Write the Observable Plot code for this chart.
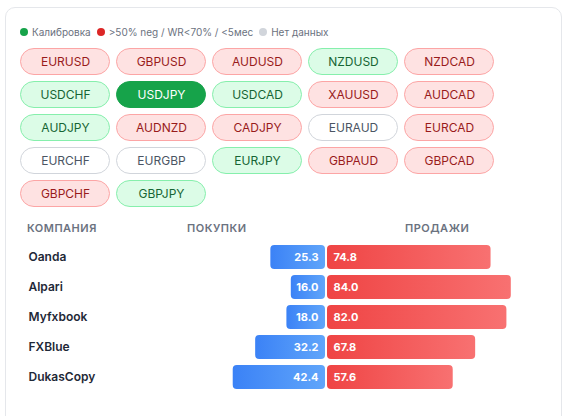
<!DOCTYPE html>
<html><head><meta charset="utf-8">
<script src="https://cdn.jsdelivr.net/npm/d3@7"></script>
<script src="https://cdn.jsdelivr.net/npm/@observablehq/plot@0.6"></script>
<style>
body{margin:0;background:#fff;font-family:Inter,sans-serif;width:568px;height:416px;overflow:hidden;position:relative}
#card{position:absolute;left:5px;top:7px;width:557px;height:440px;border:1px solid #e5e7eb;border-radius:10px;box-sizing:border-box}
.legend{position:absolute;left:20px;top:25px;height:14px;font-size:10px;color:#6b7280;display:flex;align-items:center;white-space:nowrap}
.dot{display:inline-block;width:8px;height:8px;border-radius:50%;margin-right:4px}
.lg{margin-right:6px}
.hdr{position:absolute;top:221px;font-size:11px;font-weight:600;color:#6b7280;letter-spacing:0.5px}
#pills,#bars{position:absolute;left:0}
#pills{top:44px}
#bars{top:236px}
</style></head><body>
<div id="card"></div>
<div class="legend">
<span class="dot" style="background:#16a34a"></span><span class="lg">Калибровка</span>
<span class="dot" style="background:#dc2626"></span><span class="lg">&gt;50% neg / WR&lt;70% / &lt;5мес</span>
<span class="dot" style="background:#d1d5db"></span><span>Нет данных</span>
</div>
<div class="hdr" style="left:27px">КОМПАНИЯ</div>
<div class="hdr" style="left:187px">ПОКУПКИ</div>
<div class="hdr" style="left:405px">ПРОДАЖИ</div>
<div id="pills"></div>
<div id="bars"></div>
<script>
const pairs = ["EURUSD","GBPUSD","AUDUSD","NZDUSD","NZDCAD","USDCHF","USDJPY","USDCAD","XAUUSD","AUDCAD","AUDJPY","AUDNZD","CADJPY","EURAUD","EURCAD","EURCHF","EURGBP","EURJPY","GBPAUD","GBPCAD","GBPCHF","GBPJPY"];
const statuses = ["red","red","red","green","red","green","selected","green","red","red","green","red","red","none","red","none","none","green","red","red","red","green"];
const companies = ["Oanda","Alpari","Myfxbook","FXBlue","DukasCopy"];
const buys = [25.3,16.0,18.0,32.2,42.4];
const sells = [74.8,84.0,82.0,67.8,57.6];

const fills = {red:"#fee2e2",green:"#dcfce7",selected:"#16a34a",none:"#ffffff"};
const strokes = {red:"#fca5a5",green:"#86efac",selected:"#16a34a",none:"#d1d5db"};
const texts = {red:"#991b1b",green:"#166534",selected:"#ffffff",none:"#4b5563"};

const pillData = pairs.map((p,i)=>({pair:p,status:statuses[i],col:i%5,row:Math.floor(i/5)}));

const pills = Plot.plot({
  width:568,height:172,margin:0,
  style:{background:"transparent",fontFamily:"Inter, sans-serif"},
  x:{type:"band",domain:[0,1,2,3,4],range:[20,494],paddingInner:6/96,paddingOuter:0,axis:null},
  y:{type:"band",domain:[0,1,2,3,4],range:[4,163],paddingInner:6/33,paddingOuter:0,axis:null},
  marks:[
    Plot.cell(pillData,{x:"col",y:"row",fill:d=>fills[d.status],stroke:d=>strokes[d.status],rx:13.5,inset:0.5}),
    Plot.text(pillData,{x:"col",y:"row",text:"pair",fill:d=>texts[d.status],fontSize:12,fontWeight:d=>d.status==="selected"?700:500})
  ]
});
document.getElementById("pills").append(pills);

const rows = companies.map((c,i)=>({name:c,buy:buys[i],sell:sells[i]}));
const bars = Plot.plot({
  width:568,height:170,margin:0,
  style:{background:"transparent",fontFamily:"Inter, sans-serif"},
  x:{domain:[-100,100],range:[106,546],axis:null},
  y:{type:"band",domain:companies,range:[9,153],paddingInner:0.2,paddingOuter:0,axis:null},
  marks:[
    Plot.barX(rows,{y:"name",x1:d=>-d.buy,x2:0,insetRight:1,fill:"url(#gBlue)",rx:4}),
    Plot.barX(rows,{y:"name",x1:0,x2:"sell",insetLeft:1,fill:"url(#gRed)",rx:4}),
    Plot.text(rows,{y:"name",x:0,text:d=>d.buy.toFixed(1),dx:-8,textAnchor:"end",fill:"white",fontWeight:700,fontSize:11}),
    Plot.text(rows,{y:"name",x:0,text:d=>d.sell.toFixed(1),dx:7,textAnchor:"start",fill:"white",fontWeight:700,fontSize:11}),
    Plot.text(rows,{y:"name",text:"name",frameAnchor:"left",dx:28,textAnchor:"start",fill:"#1f2937",fontWeight:600,fontSize:12})
  ]
});
const ns="http://www.w3.org/2000/svg";
const defs=document.createElementNS(ns,"defs");
function grad(id,a,b){const g=document.createElementNS(ns,"linearGradient");g.setAttribute("id",id);g.setAttribute("x1","0");g.setAttribute("x2","1");g.setAttribute("y1","0");g.setAttribute("y2","0");
 [[0,a],[1,b]].forEach(([o,c])=>{const s=document.createElementNS(ns,"stop");s.setAttribute("offset",o);s.setAttribute("stop-color",c);g.append(s);});defs.append(g);}
grad("gBlue","#3b82f6","#60a5fa");
grad("gRed","#ef4444","#f87171");
bars.prepend(defs);
document.getElementById("bars").append(bars);
</script>
</body></html>
